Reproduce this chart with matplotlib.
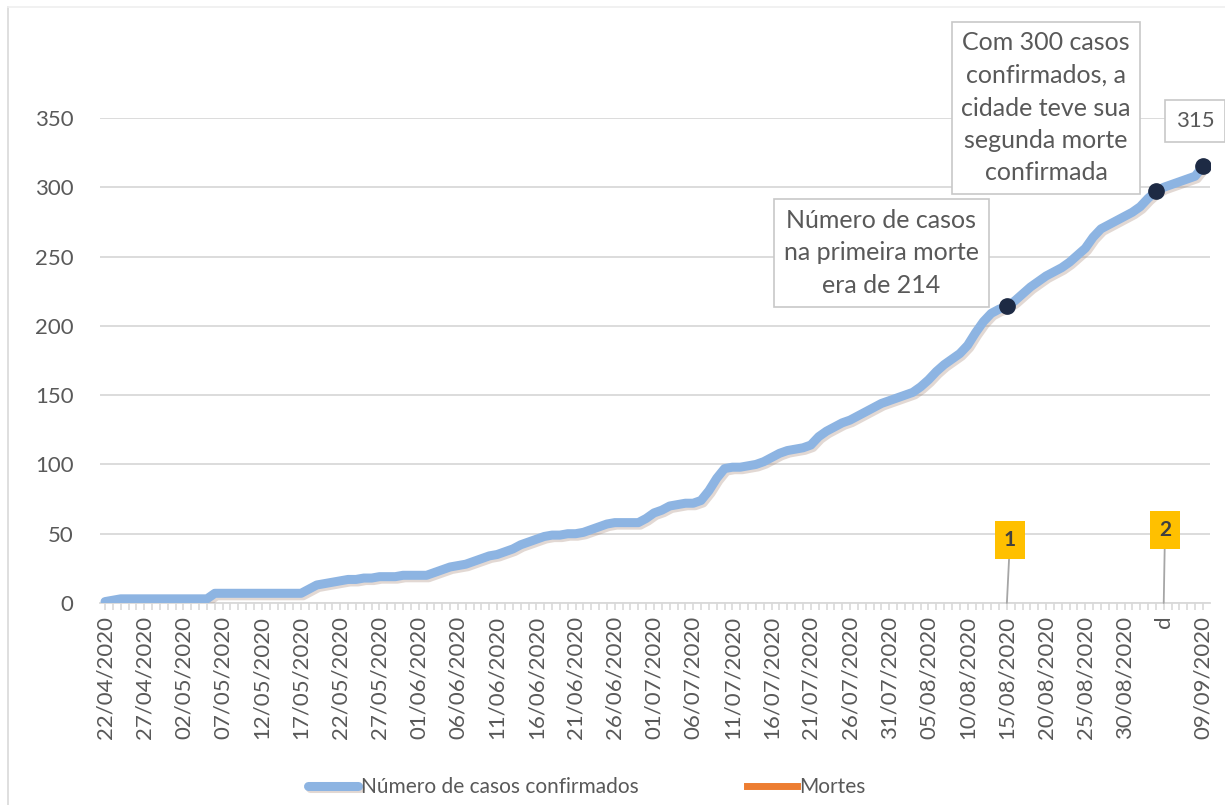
import matplotlib
matplotlib.use('Agg')
import matplotlib.pyplot as plt
import matplotlib.patheffects as pe
import numpy as np
import pandas as pd

plt.rcParams['font.family'] = ['Lato', 'DejaVu Sans']

# ---------------- data ----------------
dates = pd.date_range('2020-04-22', '2020-09-09', freq='D')

casos = [
    1, 2, 3, 3, 3, 3, 3, 3, 3, 3,          # 22/04 - 01/05
    3, 3, 3, 3, 7, 7, 7, 7, 7, 7,          # 02/05 - 11/05
    7, 7, 7, 7, 7, 7, 10, 13, 14, 15,      # 12/05 - 21/05
    16, 17, 17, 18, 18, 19, 19, 19, 20, 20,  # 22/05 - 31/05
    20, 20, 22, 24, 26, 27, 28, 30, 32, 34,  # 01/06 - 10/06
    35, 37, 39, 42, 44, 46, 48, 49, 49, 50,  # 11/06 - 20/06
    50, 51, 53, 55, 57, 58, 58, 58, 58, 61,  # 21/06 - 30/06
    65, 67, 70, 71, 72, 72, 74, 81, 90, 97,  # 01/07 - 10/07
    98, 98, 99, 100, 102, 105, 108, 110, 111, 112,  # 11/07 - 20/07
    114, 120, 124, 127, 130, 132, 135, 138, 141, 144,  # 21/07 - 30/07
    146, 148, 150, 152, 156, 161, 167, 172, 176, 180,  # 31/07 - 09/08
    186, 195, 203, 209, 212, 214, 218, 223, 228, 232,  # 10/08 - 19/08
    236, 239, 242, 246, 251, 256, 264, 270, 273, 276,  # 20/08 - 29/08
    279, 282, 286, 292, 297, 300, 302, 304, 306, 308,  # 30/08 - 08/09
    315,                                     # 09/09
]

death_dates = ['2020-08-15', '2020-09-04']
death_counts = [1, 2]

highlight_dates = ['2020-08-15', '2020-09-03', '2020-09-09']

tick_labels = [
    '22/04/2020', '27/04/2020', '02/05/2020', '07/05/2020', '12/05/2020',
    '17/05/2020', '22/05/2020', '27/05/2020', '01/06/2020', '06/06/2020',
    '11/06/2020', '16/06/2020', '21/06/2020', '26/06/2020', '01/07/2020',
    '06/07/2020', '11/07/2020', '16/07/2020', '21/07/2020', '26/07/2020',
    '31/07/2020', '05/08/2020', '10/08/2020', '15/08/2020', '20/08/2020',
    '25/08/2020', '30/08/2020', 'd', '09/09/2020',
]

annot_texts = [
    'Número de casos\nna primeira morte\nera de 214',
    'Com 300 casos\nconfirmados, a\ncidade teve sua\nsegunda morte\nconfirmada',
    '315',
]

# ---------------- figure ----------------
W, H = 1225, 805
fig = plt.figure(figsize=(W / 100, H / 100), dpi=100)
ax = fig.add_axes([100 / W, 1 - 603 / H, (1210 - 100) / W, (603 - 118) / H])

x = np.arange(len(dates))
date_idx = {d: i for i, d in enumerate(dates.strftime('%Y-%m-%d'))}

grey_txt = '#595959'
grid_c = '#d9d9d9'

# cases line with soft shadow
ax.plot(x, casos, color='#8db4e2', lw=6.5, solid_joinstyle='round',
        solid_capstyle='round', zorder=3,
        path_effects=[pe.SimpleLineShadow(offset=(1.5, -1.8), shadow_color='#a08070', alpha=0.3),
                      pe.Normal()],
        label='Número de casos confirmados')

# deaths series (isolated points -> no visible segment)
mortes = np.full(len(dates), np.nan)
for d, c in zip(death_dates, death_counts):
    mortes[date_idx[d]] = c
ax.plot(x, mortes, color='#ed7d31', lw=5, label='Mortes', zorder=2)

# highlighted points
hi_x = [date_idx[d] for d in highlight_dates]
hi_y = [casos[i] for i in hi_x]
ax.plot(hi_x, hi_y, 'o', color='#1d2a44', ms=11, zorder=5)

# axes styling
ax.set_xlim(-0.64, 140.9)
ax.set_ylim(0, 350)
ax.set_yticks(range(0, 351, 50))
ax.yaxis.grid(True, color=grid_c, lw=1.3)
ax.set_axisbelow(True)
for s in ['top', 'right', 'left']:
    ax.spines[s].set_visible(False)
ax.spines['bottom'].set_color(grid_c)
ax.spines['bottom'].set_linewidth(1.3)
ax.tick_params(axis='y', length=0, pad=19, labelsize=16, labelcolor=grey_txt)

ax.set_xticks(x[::5])
ax.set_xticklabels(tick_labels, rotation=90, fontsize=16, color=grey_txt)
ax.set_xticks(x, minor=True)
ax.tick_params(axis='x', which='both', direction='out', length=5, width=1.2,
               color=grid_c, pad=4)

# text boxes
fig.text(881 / W, 1 - 253 / H, annot_texts[0], ha='center', va='center',
         fontsize=18, color=grey_txt, linespacing=1.5,
         bbox=dict(boxstyle='square,pad=0.4', fc='white', ec='#c8c8c8', lw=1.2))
fig.text(1046 / W, 1 - 108 / H, annot_texts[1], ha='center', va='center',
         fontsize=18, color=grey_txt, linespacing=1.5,
         bbox=dict(boxstyle='square,pad=0.38', fc='white', ec='#c8c8c8', lw=1.2))
fig.text(1195 / W, 1 - 121 / H, annot_texts[2], ha='center', va='center',
         fontsize=16, color=grey_txt,
         bbox=dict(boxstyle='square,pad=0.5', fc='white', ec='#c8c8c8', lw=1.2))

# death data labels (yellow)
label_pos = [(1010, 540), (1165, 530)]
for d, c, (px, py) in zip(death_dates, death_counts, label_pos):
    ax.annotate(str(c), xy=(date_idx[d], 0), xytext=(px, H - py),
                textcoords='figure pixels', ha='center', va='center',
                fontsize=15, fontweight='bold', color='#404040',
                bbox=dict(boxstyle='square,pad=0.45', fc='#ffc000', ec='none'),
                arrowprops=dict(arrowstyle='-', color='#a6a6a6', lw=1.3,
                                shrinkA=0, shrinkB=0),
                zorder=6)

# legend
fig.legend(loc='center', bbox_to_anchor=(587 / W, 1 - 787 / H), ncol=2,
           frameon=False, fontsize=15, labelcolor=grey_txt, handlelength=2.4,
           handletextpad=0.12, columnspacing=5.2)

# outer chart frame (left and top visible)
fig.add_artist(plt.Line2D([8 / W, 8 / W], [0, 1 - 7 / H], transform=fig.transFigure,
                          color=grid_c, lw=1.2))
fig.add_artist(plt.Line2D([8 / W, 1], [1 - 7 / H, 1 - 7 / H], transform=fig.transFigure,
                          color='#efefef', lw=1.2))

fig.savefig('out.png', dpi=100)
